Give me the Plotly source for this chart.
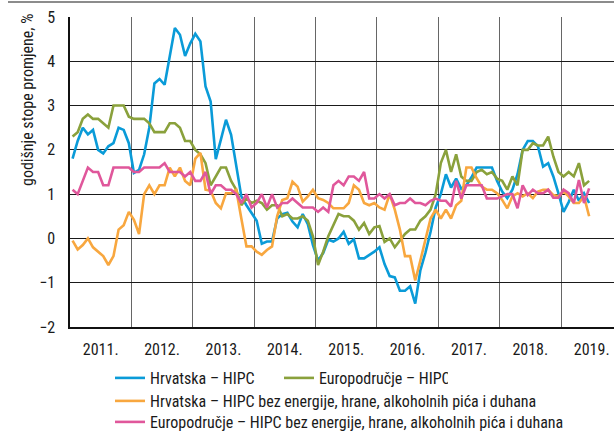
import plotly.graph_objects as go

# Monthly annual rates, Jan 2011 - Jun 2019
start_year = 2011
years = list(range(2011, 2020))
year_labels = [f"{y}." for y in years]

hr_hipc = [1.8, 2.2, 2.5, 2.35, 2.45, 2.0, 1.92, 2.08, 2.15, 2.5, 2.45, 2.15,
           1.48, 1.55, 1.9, 2.5, 3.5, 3.6, 3.47, 4.1, 4.75, 4.6, 4.12, 4.4,
           4.62, 4.45, 3.43, 3.09, 1.79, 2.23, 2.68, 2.34, 1.62, 0.95, 0.75, 0.58,
           0.4, -0.12, -0.07, -0.07, 0.45, 0.55, 0.58, 0.38, 0.25, 0.55, 0.32, -0.15,
           -0.5, -0.33, -0.03, -0.07, 0.0, 0.15, -0.12, -0.02, -0.45, -0.45, -0.38, -0.3,
           -0.2, -0.58, -0.85, -0.88, -1.18, -1.18, -1.08, -1.47, -0.72, -0.32, 0.15, 0.7,
           1.0, 1.45, 1.15, 1.35, 1.12, 1.2, 1.38, 1.6, 1.6, 1.6, 1.6, 1.3,
           1.06, 0.91, 1.1, 1.45, 2.0, 2.2, 2.2, 2.08, 1.62, 1.7, 1.4, 1.02,
           0.6, 0.82, 1.1, 0.85, 1.02, 0.8]

ea_hipc = [2.3, 2.4, 2.7, 2.8, 2.7, 2.7, 2.6, 2.5, 3.0, 3.0, 3.0, 2.75,
           2.7, 2.7, 2.7, 2.6, 2.4, 2.4, 2.4, 2.6, 2.6, 2.5, 2.2, 2.2,
           2.0, 1.9, 1.7, 1.2, 1.4, 1.6, 1.6, 1.3, 1.1, 0.75, 0.9, 0.8,
           0.85, 0.8, 0.65, 0.75, 0.75, 0.5, 0.55, 0.45, 0.45, 0.5, 0.4, 0.05,
           -0.6, -0.3, 0.05, 0.3, 0.55, 0.5, 0.5, 0.4, 0.2, 0.35, 0.1, 0.25,
           0.28, -0.08, 0.0, -0.2, -0.05, 0.1, 0.2, 0.2, 0.4, 0.5, 0.65, 1.0,
           1.7, 2.0, 1.5, 1.9, 1.4, 1.3, 1.3, 1.5, 1.55, 1.45, 1.5, 1.35,
           1.3, 1.1, 1.4, 1.2, 2.0, 2.0, 2.15, 2.1, 2.1, 2.3, 1.85, 1.5,
           1.4, 1.5, 1.4, 1.7, 1.2, 1.3]

hr_core = [-0.05, -0.25, -0.15, 0.0, -0.2, -0.3, -0.4, -0.6, -0.4, 0.2, 0.3, 0.6,
           0.42, 0.1, 1.0, 1.2, 1.0, 1.2, 1.2, 1.6, 1.4, 1.6, 1.3, 1.2,
           1.8, 1.93, 1.1, 1.08, 0.8, 0.68, 1.02, 1.02, 1.1, 0.45, -0.18, -0.18,
           -0.3, -0.37, -0.26, -0.18, 0.5, 0.87, 0.91, 1.28, 1.17, 0.83, 0.95, 1.1,
           0.91, 0.87, 0.8, 0.68, 0.68, 0.68, 0.8, 1.2, 1.1, 0.8, 0.75, 0.8,
           0.7, 0.65, 1.0, 0.65, 0.2, -0.4, -0.4, -0.95, -0.5, 0.0, 0.45, 0.65,
           0.45, 0.65, 0.45, 0.75, 0.85, 1.6, 1.6, 1.36, 1.17, 1.1, 1.1, 1.02,
           0.87, 0.68, 0.95, 1.02, 0.95, 1.02, 0.91, 1.06, 1.1, 1.1, 0.98, 0.95,
           1.06, 0.95, 0.8, 0.8, 0.95, 0.5]

ea_core = [1.1, 1.0, 1.3, 1.6, 1.5, 1.5, 1.2, 1.2, 1.6, 1.6, 1.6, 1.6,
           1.5, 1.5, 1.6, 1.6, 1.6, 1.6, 1.7, 1.5, 1.5, 1.5, 1.4, 1.5,
           1.3, 1.3, 1.5, 1.0, 1.2, 1.2, 1.1, 1.1, 1.0, 0.8, 1.0, 0.7,
           0.8, 1.0, 0.7, 1.0, 0.7, 0.8, 0.8, 0.9, 0.8, 0.7, 0.7, 0.7,
           0.6, 0.7, 0.6, 1.2, 1.3, 1.2, 1.4, 1.4, 1.3, 1.5, 0.9, 0.9,
           1.0, 0.9, 1.0, 0.75, 0.8, 0.8, 0.9, 0.8, 0.8, 0.75, 0.85, 0.9,
           0.85, 0.85, 0.72, 1.3, 0.9, 1.2, 1.2, 1.2, 1.2, 0.9, 0.9, 0.9,
           0.95, 1.0, 1.0, 0.68, 1.2, 0.98, 1.1, 1.02, 1.02, 1.1, 0.92, 0.92,
           1.1, 1.02, 0.8, 1.32, 0.8, 1.13]

names = ["Hrvatska – HIPC",
         "Europodručje – HIPC",
         "Hrvatska – HIPC bez energije, hrane, alkoholnih pića i duhana",
         "Europodručje – HIPC bez energije, hrane, alkoholnih pića i duhana"]
colors = ["#0a9bd8", "#8aa13c", "#f8a73f", "#e0579b"]
series = [hr_hipc, ea_hipc, hr_core, ea_core]
legends = ["legend", "legend", "legend2", "legend3"]

# month positions (middle of each month, in fractional years)
x = [start_year + (i + 0.5) / 12 for i in range(len(hr_hipc))]

FONT = "Liberation Sans Narrow, Arial Narrow, Roboto Condensed, DejaVu Sans Condensed, sans-serif"

fig = go.Figure()
for name, col, vals, lg in zip(names, colors, series, legends):
    fig.add_trace(go.Scatter(x=x, y=vals, mode="lines", name=name,
                             line=dict(color=col, width=2.6), legend=lg))

W, H = 614, 432
L, R, T, B = 70, 0, 17, 105
pw, ph = W - L - R, H - T - B
year_px = 61.375


def py(px):
    """pixel row -> paper y"""
    return (T + ph - px) / ph


leg_common = dict(x=(110 - L) / pw, xanchor="left", yanchor="top",
                  itemwidth=30, font=dict(size=16),
                  bgcolor="rgba(0,0,0,0)", tracegroupgap=0)

fig.update_layout(
    width=W, height=H,
    margin=dict(l=L, r=R, t=T, b=B, autoexpand=False),
    paper_bgcolor="white", plot_bgcolor="white",
    font=dict(family=FONT, size=16, color="#1a1a1a"),
    showlegend=True,
    legend=dict(orientation="h", y=py(361), entrywidth=124, **leg_common),
    legend2=dict(orientation="h", y=py(384), **leg_common),
    legend3=dict(orientation="h", y=py(405), **leg_common),
)

fig.update_xaxes(
    range=[start_year, start_year + pw / year_px],
    tickvals=[y + 0.5 for y in years], ticktext=year_labels,
    showgrid=False, ticks="", ticklabelstandoff=7,
    showline=True, linecolor="#111", linewidth=1.5,
    zeroline=False, automargin=False,
    minor=dict(tickvals=years, showgrid=True, gridcolor="#666", gridwidth=1),
    tickfont=dict(size=16),
)
fig.update_yaxes(
    range=[-2, 5], tickvals=list(range(-2, 6)),
    showgrid=True, gridcolor="#1a1a1a", gridwidth=1,
    zeroline=False, ticks="", ticklabelstandoff=10,
    showline=True, linecolor="#111", linewidth=1.5, automargin=False,
    tickfont=dict(size=16),
)

# y-axis title, placed toward the top as in the source
fig.add_annotation(text="godišnje stope promjene, %", textangle=-90,
                   xref="paper", yref="paper",
                   x=(28 - L) / pw, y=py(100),
                   xanchor="center", yanchor="middle", showarrow=False,
                   font=dict(size=16, family=FONT, color="#1a1a1a"))

# thin grey rule across the top of the figure
fig.add_shape(type="line", xref="paper", yref="paper",
              x0=(8 - L) / pw, x1=1.0, y0=py(2), y1=py(2),
              line=dict(color="#8c8c8c", width=2))

fig.write_html("out.html", config={"displayModeBar": False},
               post_script="document.body.style.margin='0';document.body.style.overflow='hidden';")
